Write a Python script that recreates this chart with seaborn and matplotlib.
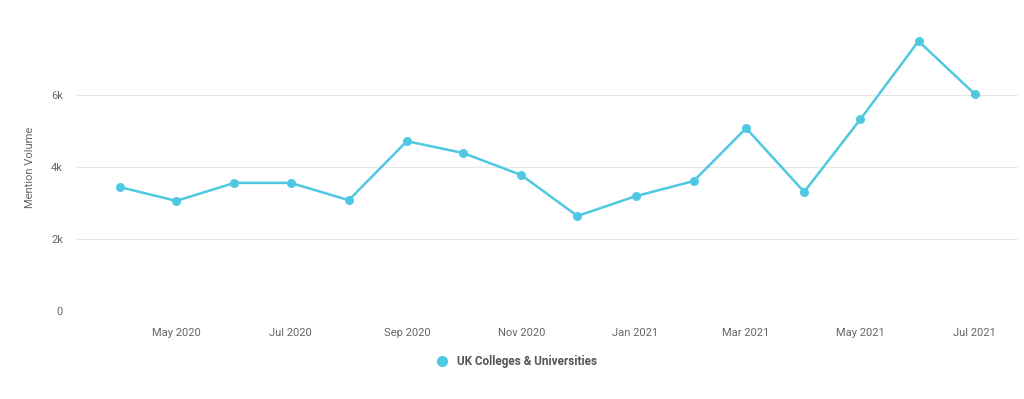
import pandas as pd
import matplotlib
matplotlib.use("Agg")
import matplotlib.pyplot as plt
import matplotlib.dates as mdates
from matplotlib.ticker import FuncFormatter
import seaborn as sns

# Data
months = ["2020-04", "2020-05", "2020-06", "2020-07", "2020-08", "2020-09",
          "2020-10", "2020-11", "2020-12", "2021-01", "2021-02", "2021-03",
          "2021-04", "2021-05", "2021-06", "2021-07"]
mentions = [3440, 3060, 3560, 3560, 3080, 4720, 4390, 3780, 2640, 3190,
            3610, 5080, 3310, 5330, 7500, 6030]
series_name = "UK Colleges & Universities"

df = pd.DataFrame({"month": pd.to_datetime(months), "mentions": mentions,
                   "series": series_name})

sns.set_style("white")
plt.rcParams["font.family"] = ["Roboto", "DejaVu Sans"]

color = "#4fc8e1"

fig = plt.figure(figsize=(10.24, 3.99), dpi=100)
ax = fig.add_axes([0.0752, 0.2206, 0.9188, 0.7214])

sns.lineplot(data=df, x="month", y="mentions", hue="series",
             palette=[color], marker="o", markersize=6.5,
             markeredgewidth=0, linewidth=1.8, ax=ax, legend=False)

ax.set_xlim(pd.Timestamp("2020-03-09"), pd.Timestamp("2021-07-24"))
ax.set_ylim(0, 8000)
ax.set_yticks([0, 2000, 4000, 6000])
ax.yaxis.set_major_formatter(
    FuncFormatter(lambda v, p: "0" if v == 0 else f"{int(v/1000)}k"))

ax.xaxis.set_major_locator(mdates.MonthLocator(bymonth=[1, 3, 5, 7, 9, 11]))
ax.xaxis.set_major_formatter(mdates.DateFormatter("%b %Y"))

ax.grid(axis="y", color="#e6e6e6", linewidth=0.8)
ax.axhline(0, color="#cccccc", linewidth=0.9, linestyle=(0, (1, 1)), zorder=1)
for s in ax.spines.values():
    s.set_visible(False)

ax.tick_params(axis="both", length=0, labelsize=8, labelcolor="#666666")
ax.tick_params(axis="x", pad=12)
ax.tick_params(axis="y", pad=10)
ax.set_xlabel("")
ax.set_ylabel("Mention Volume", fontsize=8, color="#666666", labelpad=12)

handle = plt.Line2D([], [], marker="o", linestyle="", color=color, markersize=7)
fig.legend([handle], [series_name], loc="center", bbox_to_anchor=(0.5015, 0.093),
           frameon=False, handletextpad=0.3,
           prop={"weight": "bold", "size": 8.5}, labelcolor="#555555")

fig.savefig("out.png", dpi=100)
